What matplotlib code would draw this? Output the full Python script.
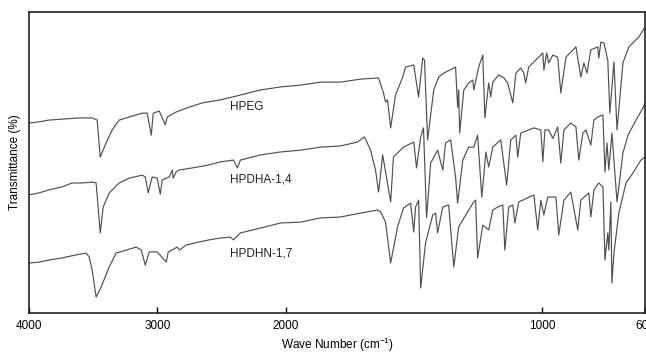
import numpy as np
import matplotlib
matplotlib.use('Agg')
import matplotlib.pyplot as plt

# FTIR spectra: wavenumber (cm-1) and transmittance (arb. %)
hpeg_wn = [4000, 3922, 3844, 3742, 3609, 3508, 3469, 3445, 3399, 3352, 3297, 3219,
           3118, 3079, 3047, 3032, 2985, 2938, 2923, 2852, 2751, 2649, 2509, 2353,
           2197, 2041, 1942, 1864, 1786, 1708, 1638, 1619, 1611, 1603, 1591, 1572,
           1544, 1533, 1501, 1482, 1466, 1459, 1447, 1423, 1404, 1384, 1338, 1330,
           1326, 1322, 1306, 1287, 1271, 1267, 1248, 1232, 1224, 1209, 1201, 1193,
           1170, 1150, 1135, 1115, 1103, 1084, 1072, 1065, 1053, 1018, 998, 994,
           983, 975, 959, 940, 928, 908, 869, 850, 838, 826, 811, 784, 780, 772,
           760, 745, 737, 721, 709, 686, 663, 624, 600]
hpeg_t = [63.1, 63.5, 64.1, 64.4, 64.8, 64.8, 64.1, 51.8, 56.5, 60.8, 64.1, 65.1,
          66.4, 66.4, 59.1, 66.4, 67.1, 62.5, 65.1, 66.8, 68.4, 69.8, 70.8, 72.4,
          74.1, 75.1, 75.7, 76.7, 76.7, 77.7, 78.1, 73.1, 70.1, 70.8, 61.5, 72.4,
          78.4, 81.7, 82.4, 71.8, 84.7, 84.0, 57.5, 74.1, 78.4, 79.7, 81.7, 68.4,
          74.1, 59.8, 74.1, 76.4, 77.4, 74.1, 81.7, 85.7, 64.8, 76.4, 71.8, 76.7,
          79.1, 78.1, 76.4, 69.8, 79.7, 81.4, 79.7, 76.4, 81.7, 84.7, 86.4, 80.7,
          86.4, 83.1, 85.7, 85.0, 73.1, 85.0, 88.4, 78.4, 83.1, 79.7, 87.4, 88.4, 84.7, 90.0,
          89.7, 84.0, 66.4, 83.4, 60.8, 83.1, 88.4, 91.7, 95.0]

hpdha_wn = [4000, 3922, 3844, 3742, 3664, 3586, 3508, 3477, 3445, 3422, 3375, 3297,
            3219, 3118, 3094, 3071, 3040, 3001, 2977, 2962, 2907, 2884, 2876, 2852,
            2829, 2727, 2595, 2509, 2407, 2376, 2353, 2197, 2041, 1942, 1864, 1786,
            1720, 1693, 1669, 1650, 1638, 1622, 1591, 1580, 1541, 1501, 1490, 1474,
            1463, 1451, 1435, 1408, 1388, 1377, 1357, 1338, 1330, 1310, 1287, 1267,
            1252, 1236, 1220, 1209, 1193, 1162, 1139, 1123, 1103, 1096, 1084, 1033,
            1006, 998, 990, 975, 959, 940, 928, 916, 889, 869, 858, 842, 830, 811,
            799, 784, 764, 756, 748, 741, 729, 709, 686, 666, 635, 608, 600]
hpdha_t = [39.2, 39.9, 40.9, 41.9, 43.2, 43.2, 43.5, 43.2, 26.6, 35.2, 39.9, 43.2,
           44.8, 45.8, 45.2, 39.9, 45.2, 44.8, 39.5, 44.2, 45.2, 47.5, 44.8, 47.0,
           47.5, 48.2, 49.2, 50.2, 50.8, 48.2, 50.8, 52.5, 53.5, 54.1, 55.1, 55.5,
           56.8, 58.5, 54.1, 47.5, 40.2, 52.5, 36.9, 51.8, 55.1, 56.8, 48.2, 58.5,
           61.5, 31.6, 49.8, 54.1, 47.5, 56.5, 57.5, 45.2, 36.5, 50.8, 55.1, 55.1,
           59.1, 38.5, 53.5, 48.5, 55.1, 57.5, 42.5, 57.5, 59.1, 51.8, 59.8, 61.5,
           60.8, 50.2, 60.8, 60.8, 58.0, 61.8, 49.8, 60.8, 63.1, 61.8, 50.8, 59.8, 60.8, 55.8,
           64.1, 65.1, 65.8, 46.8, 56.5, 47.5, 59.8, 36.9, 53.2, 59.1, 64.1, 68.1, 69.8]

hpdhn_wn = [4000, 3922, 3844, 3742, 3633, 3555, 3531, 3508, 3477, 3438, 3375, 3321,
            3243, 3165, 3125, 3094, 3063, 3001, 2930, 2915, 2845, 2829, 2774, 2673,
            2595, 2509, 2431, 2407, 2353, 2197, 2041, 1942, 1864, 1786, 1708, 1642,
            1630, 1611, 1591, 1564, 1541, 1513, 1501, 1494, 1482, 1474, 1455, 1427,
            1416, 1408, 1388, 1365, 1345, 1326, 1291, 1267, 1260, 1252, 1232, 1209,
            1193, 1174, 1154, 1146, 1131, 1115, 1107, 1092, 1033, 1018, 1006, 994,
            979, 947, 936, 916, 889, 862, 850, 819, 811, 799, 780, 764, 756, 745,
            741, 733, 729, 721, 702, 674, 647, 616, 600]
hpdhn_t = [16.6, 16.9, 17.6, 18.3, 19.3, 19.9, 18.6, 14.3, 5.3, 8.6, 15.3, 19.9,
           20.9, 21.9, 20.9, 15.9, 20.3, 20.3, 16.9, 20.3, 21.9, 20.9, 22.6, 23.6,
           24.3, 24.9, 25.2, 24.3, 26.6, 28.2, 29.9, 30.2, 31.6, 31.9, 33.2, 34.2,
           33.6, 30.2, 16.6, 28.6, 34.9, 36.5, 26.9, 35.2, 37.5, 8.3, 23.3, 32.6,
           33.2, 26.6, 35.2, 35.9, 15.3, 28.6, 33.6, 36.9, 37.5, 18.3, 29.2, 27.6,
           34.2, 35.2, 35.9, 20.9, 35.2, 35.9, 29.9, 36.9, 39.2, 27.6, 37.5, 32.6,
           38.5, 38.5, 25.9, 37.5, 40.2, 27.6, 37.5, 39.9, 31.9, 40.9, 43.2, 41.9,
           17.6, 26.6, 20.9, 36.9, 10.0, 19.9, 33.2, 43.2, 46.5, 50.8, 51.8]

labels = ['HPEG', 'HPDHA-1,4', 'HPDHN-1,7']
label_pos = [(2431, 68.4), (2431, 44.2), (2431, 19.9)]
xticks = [4000, 3000, 2000, 1000, 600]

plt.rcParams['font.family'] = ['Liberation Sans', 'DejaVu Sans']
plt.rcParams['mathtext.default'] = 'regular'


# the instrument doubles the scale below 2000 cm-1
def fwd(w):
    w = np.asarray(w, dtype=float)
    return np.where(w >= 2000, w, 2 * w - 2000)


def inv(u):
    u = np.asarray(u, dtype=float)
    return np.where(u >= 2000, u, (u + 2000) / 2.0)


fig = plt.figure(figsize=(6.46, 3.54), dpi=100)
ax = fig.add_axes([29 / 646., 41 / 354., 616 / 646., 301 / 354.])
ax.set_xscale('function', functions=(fwd, inv))

line_kw = dict(color='#505050', linewidth=0.85)
ax.plot(hpeg_wn, hpeg_t, **line_kw)
ax.plot(hpdha_wn, hpdha_t, **line_kw)
ax.plot(hpdhn_wn, hpdhn_t, **line_kw)

for lab, (xw, yt) in zip(labels, label_pos):
    ax.text(xw, yt, lab, fontsize=8.5, ha='left', va='center', color='#222222')

ax.set_xlim(4000, 600)
ax.set_ylim(0, 100)
ax.set_xticks(xticks)
ax.set_xticklabels([str(t) for t in xticks])
ax.xaxis.set_minor_locator(matplotlib.ticker.NullLocator())
ax.set_yticks([])
ax.tick_params(axis='x', direction='in', length=4, width=1.0, labelsize=8.5,
               pad=5, top=False)
for sp in ax.spines.values():
    sp.set_linewidth(1.2)
    sp.set_color('#222222')

ax.set_xlabel(r'Wave Number (cm$^{-1}$)', fontsize=8.5, labelpad=3)
ax.set_ylabel('Transmittance (%)', fontsize=8.5, labelpad=6)

plt.savefig('out.png', dpi=100)
plt.close(fig)
